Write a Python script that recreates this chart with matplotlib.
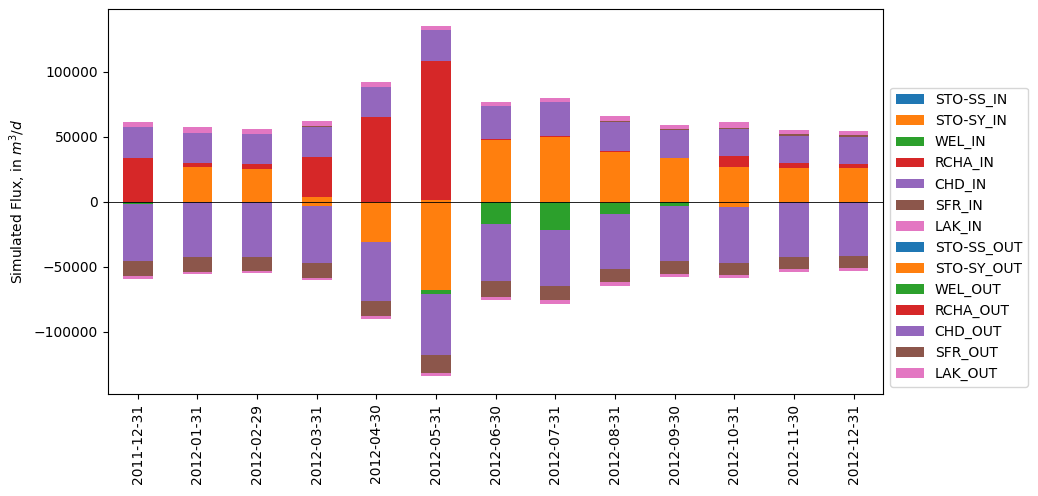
"""
Monthly budget plot, stacked IN / OUT fluxes.
"""
import pandas as pd
import matplotlib
matplotlib.use("Agg")
import matplotlib.pyplot as plt

dates = ["2011-12-31", "2012-01-31", "2012-02-29", "2012-03-31", "2012-04-30",
         "2012-05-31", "2012-06-30", "2012-07-31", "2012-08-31", "2012-09-30",
         "2012-10-31", "2012-11-30", "2012-12-31"]

# inflows (m3/d)
sto_ss_in = [0, 0, 0, 0, 0, 0, 0, 0, 0, 0, 0, 0, 0]
sto_sy_in = [0, 26400, 24850, 3300, 0, 1000, 47700, 49700, 37900, 33300, 26400, 25600, 25600]
wel_in = [0, 0, 0, 0, 0, 0, 0, 0, 0, 0, 0, 0, 0]
rcha_in = [33300, 3050, 3850, 30800, 64800, 106900, 500, 500, 700, 0, 8450, 3850, 3080]
chd_in = [23850, 23050, 23000, 23300, 23100, 23900, 25000, 26100, 23000, 21500, 20750, 20770, 20760]
sfr_in = [0, 600, 500, 500, 0, 0, 0, 0, 600, 700, 700, 1540, 1540]
lak_in = [3850, 4000, 3800, 3800, 3900, 3000, 3100, 3200, 3400, 3200, 4600, 3070, 3080]

# outflows (m3/d), negative
sto_ss_out = [0, 0, 0, 0, 0, 0, 0, 0, 0, 0, 0, 0, 0]
sto_sy_out = [0, 0, 0, -3600, -31300, -68200, 0, 0, -1300, 0, -4400, 0, 0]
wel_out = [-2000, 0, 0, 0, 0, -3100, -17500, -22100, -8500, -3600, 0, 0, 0]
rcha_out = [0, 0, 0, 0, 0, 0, 0, 0, 0, 0, 0, 0, 0]
chd_out = [-43900, -42850, -42850, -43900, -45400, -46900, -43800, -43000, -42300, -42300, -43100, -42850, -42080]
sfr_out = [-11600, -11550, -10750, -11500, -11600, -13800, -12300, -10800, -10000, -10000, -9200, -9230, -9230]
lak_out = [-2000, -1300, -1500, -1500, -2000, -2400, -2300, -3100, -3000, -2300, -2300, -2300, -2300]

df = pd.DataFrame({
    "STO-SS_IN": sto_ss_in,
    "STO-SY_IN": sto_sy_in,
    "WEL_IN": wel_in,
    "RCHA_IN": rcha_in,
    "CHD_IN": chd_in,
    "SFR_IN": sfr_in,
    "LAK_IN": lak_in,
    "STO-SS_OUT": sto_ss_out,
    "STO-SY_OUT": sto_sy_out,
    "WEL_OUT": wel_out,
    "RCHA_OUT": rcha_out,
    "CHD_OUT": chd_out,
    "SFR_OUT": sfr_out,
    "LAK_OUT": lak_out,
}, index=dates)

colors = ["C0", "C1", "C2", "C3", "C4", "C5", "C6"] * 2

fig, ax = plt.subplots(figsize=(10.38, 4.96), dpi=100)
fig.subplots_adjust(left=0.104, right=0.851, top=0.982, bottom=0.206)
df.plot(kind="bar", stacked=True, ax=ax, color=colors)
ax.axhline(0, color="k", lw=0.6)
ax.set_ylabel("Simulated Flux, in $m^3/d$")
ax.legend(loc="lower left", bbox_to_anchor=(1, 0))
plt.savefig("out.png", dpi=100)
